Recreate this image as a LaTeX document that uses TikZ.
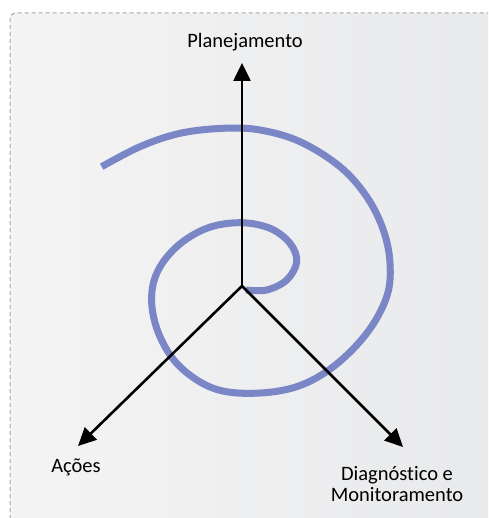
\documentclass[tikz,border=0pt]{standalone}
\usepackage{fontspec}
\setmainfont{Carlito}[Ligatures=NoCommon]
\usetikzlibrary{arrows.meta,positioning}
\definecolor{spiralblue}{RGB}{122,134,198}
\definecolor{framegray}{RGB}{168,168,168}
\definecolor{bgleft}{RGB}{244,244,244}
\definecolor{bgright}{RGB}{232,233,235}

\begin{document}
\begin{tikzpicture}[x=1pt, y=-1pt,
    axisarrow/.style={line width=2.6pt, -{Triangle[length=18pt,width=17pt]}},
    axislabel/.style={font=\fontsize{20.5}{21.5}\selectfont, inner sep=0pt, align=center},
    spiralline/.style={spiralblue, line width=7pt},
    boxframe/.style={framegray, line width=1pt, dash pattern=on 4pt off 3pt}]
  \useasboundingbox (0,0) rectangle (488,518);
  \clip (0,0) rectangle (488,518);
  \shade[left color=bgleft, right color=bgright, rounded corners=6pt]
    (10,540) -- (10,13) -- (510,13) -- (510,540) -- cycle;
  \draw[boxframe, rounded corners=6pt] (10,540) -- (10,13) -- (510,13);

  \coordinate (O) at (242,286);
  \coordinate (tipP) at (242,63);
  \coordinate (tipA) at (78,446);
  \coordinate (tipD) at (403,447);

  \draw[spiralline] plot[smooth, tension=0.6] coordinates {
      (246,290) (266.7,290) (286.7,280) (296.7,261.7) (290,243.3)
      (270,228.3) (240,222.7) (206.7,228.3) (176.7,246.7) (156.7,273.3)
      (151.7,303.3) (160,336.7) (180,366.7) (213.3,388.3) (253.3,393.3)
      (296.7,386.7) (333.3,366.7) (366.7,333.3) (386.7,296.7) (390,263.3)
      (383.3,230) (366.7,196.7) (340,166.7) (300,141.7) (260,130)
      (223.3,128.3) (180,133.3) (140,146.7) (101.7,166.7)};

  \draw[axisarrow] (O) -- (tipP);
  \draw[axisarrow] (O) -- (tipA);
  \draw[axisarrow] (O) -- (tipD);

  \node[axislabel, above=12pt of tipP, xshift=3pt] (plan) {Planejamento};
  \node[axislabel, below=13pt of tipA, xshift=-2pt] (acoes) {Ações};
  \node[axislabel, below=19pt of tipD, xshift=-6pt] (diag) {Diagnóstico e\\Monitoramento};
\end{tikzpicture}
\end{document}
